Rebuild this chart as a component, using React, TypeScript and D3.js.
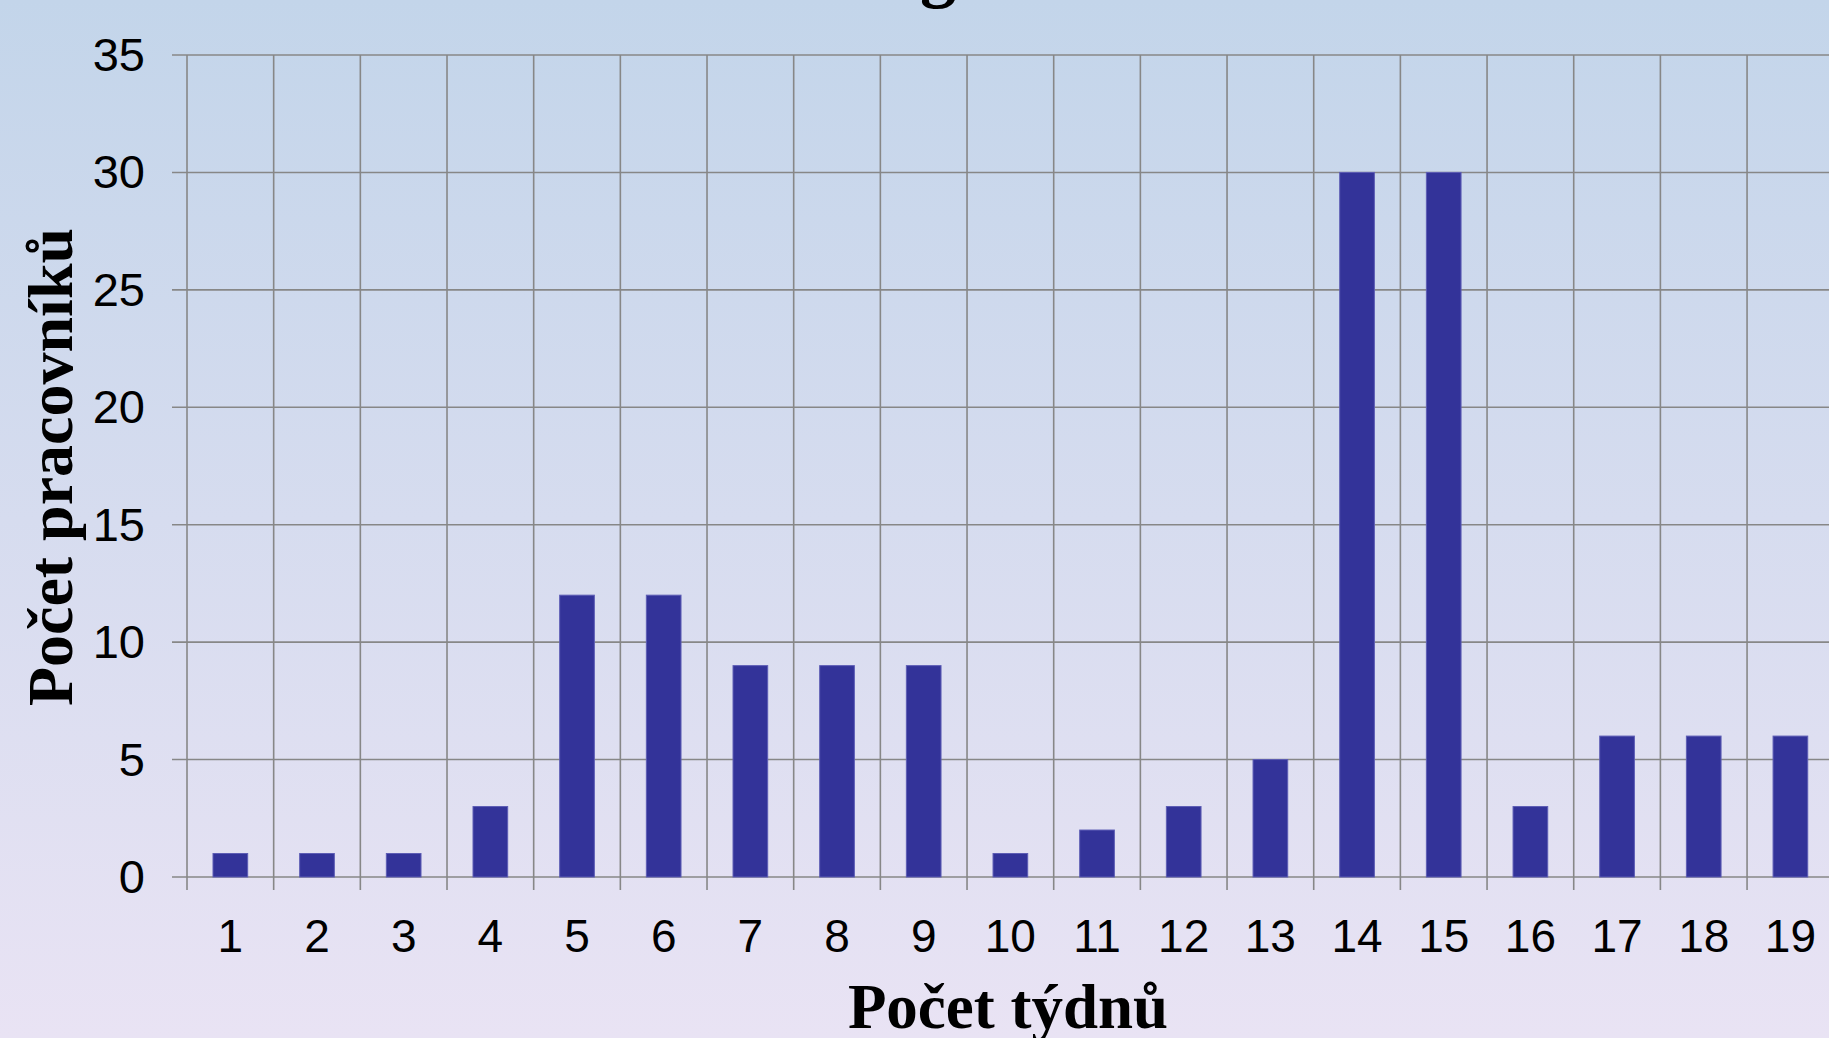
import { useEffect, useRef } from 'react'
import * as d3 from 'd3'

const weeks = ['1', '2', '3', '4', '5', '6', '7', '8', '9', '10', '11', '12', '13', '14', '15', '16', '17', '18', '19']
const workers = [1, 1, 1, 3, 12, 12, 9, 9, 9, 1, 2, 3, 5, 30, 30, 3, 6, 6, 6]
const yTicks = [0, 5, 10, 15, 20, 25, 30, 35]

export default function App() {
  const svgRef = useRef<SVGSVGElement>(null)

  useEffect(() => {
    document.body.style.margin = '0'
    if (!svgRef.current) return
    const svg = d3.select(svgRef.current)
    svg.selectAll('*').remove()

    const width = 1829
    const height = 1038
    const left = 187
    const step = 86.67
    const right = left + step * weeks.length
    const top = 55
    const bottom = 877

    // background gradient
    const defs = svg.append('defs')
    const bg = defs.append('linearGradient')
      .attr('id', 'bgGrad')
      .attr('x1', '0%').attr('y1', '0%')
      .attr('x2', '0%').attr('y2', '100%')
    bg.append('stop').attr('offset', '0%').attr('stop-color', '#c3d5ea')
    bg.append('stop').attr('offset', '100%').attr('stop-color', '#e9e3f4')

    svg.append('rect')
      .attr('width', width)
      .attr('height', height)
      .attr('fill', 'url(#bgGrad)')

    const x = d3.scaleBand<string>()
      .domain(weeks)
      .range([left, right])
      .paddingInner(0.6)
      .paddingOuter(0.3)

    const y = d3.scaleLinear()
      .domain([0, 35])
      .range([bottom, top])

    const gridColor = '#878787'

    // horizontal grid
    svg.append('g')
      .selectAll('line')
      .data(yTicks)
      .join('line')
      .attr('x1', left - 15)
      .attr('x2', right)
      .attr('y1', d => y(d))
      .attr('y2', d => y(d))
      .attr('stroke', gridColor)
      .attr('stroke-width', 1.6)

    // vertical grid (category boundaries)
    const bounds = d3.range(weeks.length + 1).map(i => left + i * x.step())
    svg.append('g')
      .selectAll('line')
      .data(bounds)
      .join('line')
      .attr('x1', d => d)
      .attr('x2', d => d)
      .attr('y1', top)
      .attr('y2', bottom + 13)
      .attr('stroke', gridColor)
      .attr('stroke-width', 1.6)

    // bars
    svg.append('g')
      .selectAll('rect')
      .data(workers)
      .join('rect')
      .attr('x', (d, i) => x(weeks[i])!)
      .attr('y', d => y(d))
      .attr('width', x.bandwidth())
      .attr('height', d => bottom - y(d))
      .attr('fill', '#333399')
      .attr('stroke', '#5d5db5')
      .attr('stroke-width', 1)

    // y tick labels
    svg.append('g')
      .selectAll('text')
      .data(yTicks)
      .join('text')
      .attr('x', 145)
      .attr('y', d => y(d) + 16)
      .attr('text-anchor', 'end')
      .attr('font-family', 'Liberation Sans, Arial, sans-serif')
      .attr('font-size', 47)
      .attr('fill', '#000')
      .text(d => d)

    // x tick labels
    svg.append('g')
      .selectAll('text')
      .data(weeks)
      .join('text')
      .attr('x', d => x(d)! + x.bandwidth() / 2)
      .attr('y', 952)
      .attr('text-anchor', 'middle')
      .attr('font-family', 'Liberation Sans, Arial, sans-serif')
      .attr('font-size', 46)
      .attr('fill', '#000')
      .text(d => d)

    // axis titles
    svg.append('text')
      .attr('x', 1008)
      .attr('y', 1028)
      .attr('text-anchor', 'middle')
      .attr('font-family', 'Liberation Serif, Times New Roman, serif')
      .attr('font-weight', 'bold')
      .attr('font-size', 63)
      .attr('fill', '#000')
      .text('Počet týdnů')

    svg.append('text')
      .attr('transform', 'translate(72,467) rotate(-90)')
      .attr('text-anchor', 'middle')
      .attr('font-family', 'Liberation Serif, Times New Roman, serif')
      .attr('font-weight', 'bold')
      .attr('font-size', 64)
      .attr('fill', '#000')
      .text('Počet pracovníků')

    // title, mostly cut off above the frame
    svg.append('text')
      .attr('x', 756)
      .attr('y', -6)
      .attr('font-family', 'Liberation Serif, Times New Roman, serif')
      .attr('font-weight', 'bold')
      .attr('font-size', 72)
      .attr('fill', '#000')
      .text('Histogram')
  }, [])

  return (
    <svg
      ref={svgRef}
      width={1829}
      height={1038}
      style={{ display: 'block', position: 'absolute', left: 0, top: 0 }}
    />
  )
}
